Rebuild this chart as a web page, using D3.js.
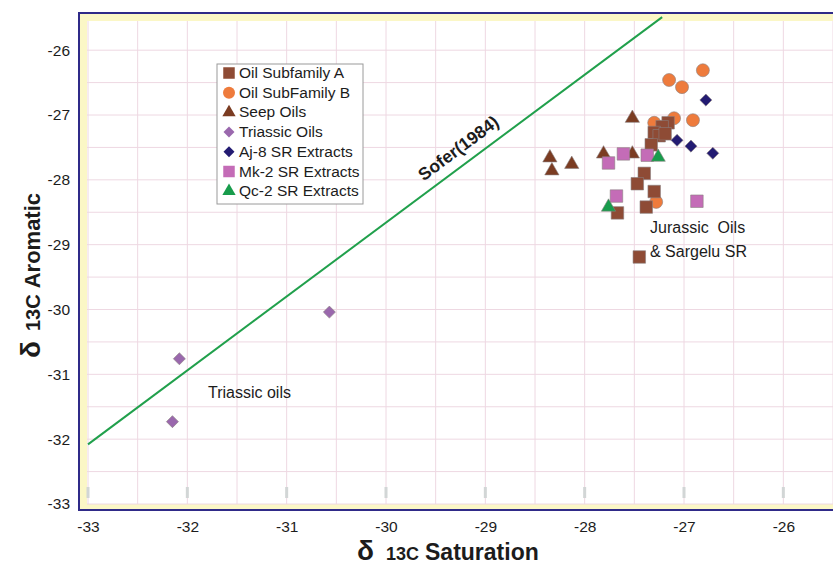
<!DOCTYPE html>
<html>
<head>
<meta charset="utf-8">
<script src="https://cdn.jsdelivr.net/npm/d3@7"></script>
<style>
  body { margin: 0; background: #fff; }
  svg { display: block; font-family: "Liberation Sans", Arial, sans-serif; }
</style>
</head>
<body>
<svg id="chart" width="833" height="567"></svg>
<script>
// values: [saturate d13C, aromatic d13C]
var subfamilyA = [[-27.16, -27.12], [-27.22, -27.18], [-27.30, -27.27], [-27.25, -27.32],
    [-27.19, -27.29], [-27.33, -27.46], [-27.40, -27.90], [-27.47, -28.06],
    [-27.30, -28.18], [-27.38, -28.42], [-27.67, -28.51], [-27.45, -29.19]];
var subfamilyB = [[-27.15, -26.46], [-27.02, -26.57], [-26.81, -26.31], [-27.30, -27.12],
    [-27.10, -27.05], [-26.91, -27.08], [-27.28, -28.34]];
var seepOils = [[-28.35, -27.66], [-28.33, -27.86], [-28.13, -27.76], [-27.81, -27.60],
    [-27.52, -27.05], [-27.52, -27.60]];
var triassicOils = [[-32.08, -30.76], [-32.15, -31.73], [-30.57, -30.04]];
var aj8 = [[-26.78, -26.77], [-27.07, -27.39], [-26.93, -27.48], [-26.71, -27.59]];
var mk2 = [[-27.61, -27.60], [-27.76, -27.74], [-27.37, -27.62], [-27.68, -28.25], [-26.87, -28.33]];
var qc2 = [[-27.26, -27.65], [-27.76, -28.42]];
var soferLine = [[-33, -32.08], [-27.22, -25.49]];

var xTicks = [-33, -32, -31, -30, -29, -28, -27, -26];
var yTicks = [-26, -27, -28, -29, -30, -31, -32, -33];
var seriesNames = ["Oil Subfamily A", "Oil SubFamily B", "Seep Oils", "Triassic Oils",
    "Aj-8 SR Extracts", "Mk-2 SR Extracts", "Qc-2 SR Extracts"];

var svg = d3.select("#chart");
var x = d3.scaleLinear().domain([-33, -25.5]).range([88, 833]);
var y = d3.scaleLinear().domain([-33, -25.55]).range([504, 21]);

var series = [
    {data: triassicOils, shape: "diamond", fill: "#9a68ad", size: 11},
    {data: subfamilyB, shape: "circle", fill: "#ee7b3c", size: 13},
    {data: subfamilyA, shape: "square", fill: "#8e4b35", size: 12.5},
    {data: seepOils, shape: "triangle", fill: "#7b3c22", size: 14},
    {data: aj8, shape: "diamond", fill: "#231b72", size: 11},
    {data: mk2, shape: "square", fill: "#c46cb7", size: 12.5},
    {data: qc2, shape: "triangle", fill: "#189c4c", size: 14}
];
var legendOrder = [2, 1, 3, 0, 4, 5, 6];

var symbolPath = function (shape, size) {
    if (shape == "circle") return d3.symbol().type(d3.symbolCircle).size(Math.PI * size * size / 4)();
    if (shape == "triangle") return d3.symbol().type(d3.symbolTriangle).size(size * size * 0.45)();
    return d3.symbol().type(d3.symbolSquare).size(size * size * (shape == "diamond" ? 0.6 : 1))();
};

// frame: blue border, yellow band, white plot
svg.append("rect").attr("x", 79).attr("y", 13).attr("width", 770).attr("height", 497)
    .attr("fill", "#fbf7c6").attr("stroke", "#2f2a88").attr("stroke-width", 2);
svg.append("rect").attr("x", 87).attr("y", 21).attr("width", 760).attr("height", 483)
    .attr("fill", "#fff");

var plot = svg.append("g");
var gridX = d3.range(-33, -25.4, 0.5), gridY = d3.range(-33, -25.5, 0.5);
plot.selectAll(".gx").data(gridX).enter().append("line")
    .attr("x1", d => x(d)).attr("x2", d => x(d)).attr("y1", 21).attr("y2", 504)
    .attr("stroke", "#eed8e2").attr("stroke-width", 1);
plot.selectAll(".gy").data(gridY).enter().append("line")
    .attr("y1", d => y(d)).attr("y2", d => y(d)).attr("x1", 87).attr("x2", 833)
    .attr("stroke", "#eed8e2").attr("stroke-width", 1);

// little grey marks at the bottom
plot.selectAll(".tm").data(xTicks).enter().append("rect")
    .attr("x", d => x(d) - 1.5).attr("y", 487).attr("width", 3).attr("height", 11)
    .attr("fill", "#d2d6d6");

// axes
var xAxis = d3.axisBottom(x).tickValues(xTicks).tickSize(0).tickPadding(10).tickFormat(d => String(d));
svg.append("g").attr("transform", "translate(0,511)").call(xAxis)
    .call(g => g.select(".domain").remove())
    .selectAll("text").attr("font-size", 15.5).attr("fill", "#1c1c1c")
    .attr("font-family", "Liberation Sans, Arial, sans-serif");
var yAxis = d3.axisLeft(y).tickValues(yTicks).tickSize(0).tickPadding(9).tickFormat(d => String(d));
svg.append("g").attr("transform", "translate(79,0)").call(yAxis)
    .call(g => g.select(".domain").remove())
    .selectAll("text").attr("font-size", 15.5).attr("fill", "#1c1c1c")
    .attr("font-family", "Liberation Sans, Arial, sans-serif");

// Sofer line
svg.append("line")
    .attr("x1", x(soferLine[0][0])).attr("y1", y(soferLine[0][1]))
    .attr("x2", x(soferLine[1][0])).attr("y2", y(soferLine[1][1]))
    .attr("stroke", "#21a04c").attr("stroke-width", 2);
var ang = Math.atan2(y(soferLine[0][1]) - y(soferLine[1][1]), x(soferLine[1][0]) - x(soferLine[0][0])) * 180 / Math.PI;
svg.append("text").attr("transform", "translate(" + 462 + "," + 153 + ") rotate(" + (-ang) + ")")
    .attr("text-anchor", "middle").attr("font-size", 17.5).attr("font-weight", "bold")
    .attr("fill", "#1c1c1c").text("Sofer(1984)");

// points
series.forEach(s => {
    plot.selectAll(null).data(s.data).enter().append("path")
        .attr("d", symbolPath(s.shape, s.size))
        .attr("transform", d => "translate(" + x(d[0]) + "," + y(d[1]) + ")" + (s.shape == "diamond" ? " rotate(45)" : ""))
        .attr("fill", s.fill).attr("stroke", "#8a7f7f").attr("stroke-width", 0.6);
});

// annotations
svg.append("text").attr("x", 208).attr("y", 398).attr("font-size", 16).attr("fill", "#1c1c1c").text("Triassic oils");
svg.append("text").attr("x", 650).attr("y", 233).attr("font-size", 16).attr("fill", "#1c1c1c")
    .attr("xml:space", "preserve").text("Jurassic  Oils");
svg.append("text").attr("x", 650).attr("y", 257).attr("font-size", 16).attr("fill", "#1c1c1c").text("& Sargelu SR");

// legend
var legend = svg.append("g");
legend.append("rect").attr("x", 217).attr("y", 64).attr("width", 146).attr("height", 140)
    .attr("fill", "#fff").attr("stroke", "#9a9a9a").attr("stroke-width", 1);
legendOrder.forEach((si, i) => {
    var s = series[si], cy = 73 + i * 19.7;
    legend.append("path").attr("d", symbolPath(s.shape, s.size - 1))
        .attr("transform", "translate(229," + cy + ")" + (s.shape == "diamond" ? " rotate(45)" : ""))
        .attr("fill", s.fill);
    legend.append("text").attr("x", 239).attr("y", cy + 5).attr("font-size", 15.5)
        .attr("fill", "#1c1c1c").text(seriesNames[i]);
});

// axis titles
var xt = svg.append("text").attr("x", 357).attr("y", 560).attr("font-weight", "bold").attr("fill", "#1c1c1c");
xt.append("tspan").attr("font-size", 28).text("δ");
xt.append("tspan").attr("dx", 12).attr("font-size", 18).text("13C");
xt.append("tspan").attr("dx", 6).attr("font-size", 23).text("Saturation");

var yt = svg.append("text").attr("transform", "translate(40,358) rotate(-90)")
    .attr("font-weight", "bold").attr("fill", "#1c1c1c");
yt.append("tspan").attr("font-size", 28).text("δ");
yt.append("tspan").attr("dx", 10).attr("font-size", 20).text("13C");
yt.append("tspan").attr("dx", 6).attr("font-size", 22).text("Aromatic");
</script>
</body>
</html>
